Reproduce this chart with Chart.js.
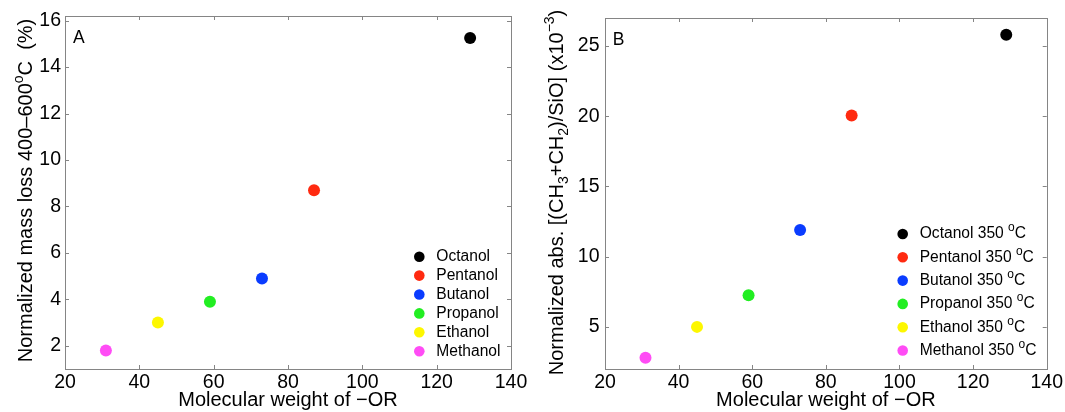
<!DOCTYPE html>
<html>
<head>
<meta charset="utf-8">
<script src="https://cdn.jsdelivr.net/npm/chart.js@4.4.1/dist/chart.umd.min.js"></script>
<style>
  body { margin: 0; background: #fff; }
  canvas { position: absolute; top: 0; }
  #chartA { left: 0; }
  #chartB { left: 540px; }
</style>
</head>
<body>
<canvas id="chartA" width="540" height="412"></canvas>
<canvas id="chartB" width="525" height="412"></canvas>
<script>
    // data
    const names = ['Octanol', 'Pentanol', 'Butanol', 'Propanol', 'Ethanol', 'Methanol'];
    const molWeight = [129, 87, 73, 59, 45, 31];
    const massLoss = [15.25, 8.7, 4.9, 3.9, 3.0, 1.8];
    const absRatio = [25.8, 20.05, 11.9, 7.25, 5.0, 2.8];
    const colors = ['#000000', '#ff2a10', '#0a3cff', '#22ee22', '#fdf700', '#ff4cf5'];
    const xTicks = [20, 40, 60, 80, 100, 120, 140];
    const yTicksA = [2, 4, 6, 8, 10, 12, 14, 16];
    const yTicksB = [5, 10, 15, 20, 25];

    const fontFam = "'Liberation Sans', Arial, Helvetica, sans-serif";

    // draws text pieces with super/subscripts, centered on (0,0) of current transform
    function drawRich(ctx, parts, size) {
        let total = 0;
        const small = Math.round(size * 0.7);
        parts.forEach(p => {
            ctx.font = (p[1] === 'n' ? size : small) + 'px ' + fontFam;
            p.w = ctx.measureText(p[0]).width;
            total += p.w;
        });
        let x = -total / 2;
        parts.forEach(p => {
            ctx.font = (p[1] === 'n' ? size : small) + 'px ' + fontFam;
            let dy = 0;
            if (p[1] === 'sup') dy = -size * 0.45;
            if (p[1] === 'sub') dy = size * 0.25;
            ctx.fillText(p[0], x, dy);
            x += p.w;
        });
    }

    const boxPlugin = {
        id: 'box',
        afterDraw(chart) {
            const ctx = chart.ctx;
            const a = chart.chartArea;
            const x = chart.scales.x;
            const y = chart.scales.y;
            const o = chart.options.plugins.box;
            ctx.save();
            ctx.strokeStyle = '#858585';
            ctx.lineWidth = 1;
            ctx.strokeRect(Math.round(a.left) + 0.5, Math.round(a.top) + 0.5,
                Math.round(a.right - a.left), Math.round(a.bottom - a.top));
            ctx.beginPath();
            x.ticks.forEach(t => {
                const px = Math.round(x.getPixelForValue(t.value)) + 0.5;
                ctx.moveTo(px, a.bottom); ctx.lineTo(px, a.bottom - 4);
                ctx.moveTo(px, a.top); ctx.lineTo(px, a.top + 4);
            });
            y.ticks.forEach(t => {
                const py = Math.round(y.getPixelForValue(t.value)) + 0.5;
                ctx.moveTo(a.left, py); ctx.lineTo(a.left + 4, py);
                ctx.moveTo(a.right, py); ctx.lineTo(a.right - 4, py);
            });
            ctx.stroke();

            // panel letter
            ctx.fillStyle = '#000';
            ctx.font = '17.5px ' + fontFam;
            ctx.textBaseline = 'alphabetic';
            ctx.textAlign = 'left';
            ctx.fillText(o.letter, o.letterX, o.letterY);

            // y axis title, rotated
            ctx.save();
            ctx.translate(o.titleX, o.titleY);
            ctx.rotate(-Math.PI / 2);
            drawRich(ctx, o.yTitle, 20);
            ctx.restore();

            // legend inside the plot
            ctx.textBaseline = 'middle';
            chart.data.datasets.forEach((ds, i) => {
                const ly = o.legY + i * o.legStep;
                ctx.fillStyle = ds.backgroundColor;
                ctx.beginPath();
                ctx.arc(o.legX, ly, 5.3, 0, Math.PI * 2);
                ctx.fill();
                ctx.fillStyle = '#000';
                const bits = ds.label.split('°');
                ctx.font = '15.6px ' + fontFam;
                ctx.fillText(bits[0], o.legX + 17, ly);
                if (bits.length > 1) {
                    let w = ctx.measureText(bits[0]).width;
                    ctx.font = '12px ' + fontFam;
                    ctx.fillText('o', o.legX + 17 + w, ly - 6);
                    w += ctx.measureText('o').width;
                    ctx.font = '15.6px ' + fontFam;
                    ctx.fillText(bits[1], o.legX + 17 + w, ly);
                }
            });
            ctx.restore();
        }
    };

    function makeChart(id, values, suffix, yMin, yMax, yTicks, yWidth, yPad, pad, box) {
        const datasets = names.map((n, i) => ({
            label: n + suffix,
            data: [{ x: molWeight[i], y: values[i] }],
            backgroundColor: colors[i],
            borderWidth: 0,
            pointRadius: 6,
            pointHoverRadius: 6
        }));
        return new Chart(document.getElementById(id), {
            type: 'scatter',
            data: { datasets: datasets },
            options: {
                responsive: false,
                animation: false,
                layout: { padding: pad },
                plugins: {
                    legend: { display: false },
                    tooltip: { enabled: false },
                    box: box
                },
                scales: {
                    x: {
                        min: 20, max: 140,
                        afterBuildTicks: s => { s.ticks = xTicks.map(v => ({ value: v })); },
                        afterFit: s => { s.height = 43; },
                        grid: { display: false, drawTicks: false },
                        border: { display: false },
                        ticks: { color: '#000', padding: 2, font: { size: 19.5, family: fontFam } },
                        title: {
                            display: true,
                            text: 'Molecular weight of \u2212OR',
                            color: '#000',
                            padding: 0,
                            font: { size: 20, family: fontFam }
                        }
                    },
                    y: {
                        min: yMin, max: yMax,
                        afterBuildTicks: s => { s.ticks = yTicks.map(v => ({ value: v })); },
                        afterFit: s => { s.width = yWidth; },
                        grid: { display: false, drawTicks: false },
                        border: { display: false },
                        ticks: { color: '#000', padding: yPad, font: { size: 19.5, family: fontFam } }
                    }
                }
            },
            plugins: [boxPlugin]
        });
    }

    makeChart('chartA', massLoss, '', 1, 16.2, yTicksA, 65, 4,
        { left: 0, top: 16, right: 29, bottom: 0 },
        {
            letter: 'A', letterX: 73, letterY: 43.3,
            titleX: 31.5, titleY: 190.5,
            yTitle: [['Normalized mass loss 400\u2013600', 'n'], ['o', 'sup'], ['C  (%)', 'n']],
            legX: 419.3, legY: 256.7, legStep: 18.9
        });

    makeChart('chartB', absRatio, ' 350 °C', 2, 27, yTicksB, 65, 5.5,
        { left: 0, top: 18, right: 17, bottom: 0 },
        {
            letter: 'B', letterX: 72.7, letterY: 45,
            titleX: 22.7, titleY: 192.5,
            yTitle: [['Normalized abs. [(CH', 'n'], ['3', 'sub'], ['+CH', 'n'], ['2', 'sub'],
                [')/SiO] (x10', 'n'], ['\u22123', 'sup'], [')', 'n']],
            legX: 362.7, legY: 234, legStep: 23.3
        });
</script>
</body>
</html>
